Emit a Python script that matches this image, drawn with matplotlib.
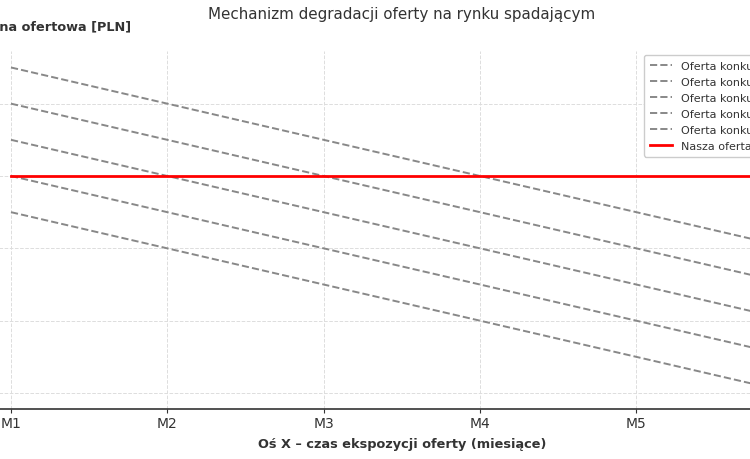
import numpy as np
import matplotlib
matplotlib.use('Agg')
import matplotlib.pyplot as plt

# months on the x axis
months = ['M1', 'M2', 'M3', 'M4', 'M5', 'M6']
# competitor offers - each one drops 5 PLN per month
comp_labels = ['Oferta konkurencji 1', 'Oferta konkurencji 2', 'Oferta konkurencji 3',
               'Oferta konkurencji 4', 'Oferta konkurencji 5']
comp_prices = [
    [115, 110, 105, 100, 95, 90],
    [110, 105, 100, 95, 90, 85],
    [105, 100, 95, 90, 85, 80],
    [100, 95, 90, 85, 80, 75],
    [95, 90, 85, 80, 75, 70],
]
our_price = [100, 100, 100, 100, 100, 100]

x = np.arange(1, len(months) + 1)

fig = plt.figure(figsize=(7.5, 4.6), dpi=100)
# the axes run past the figure edges on both sides (cropped look)
ax = fig.add_axes([-28.1 / 750, 49.7 / 460, 859.8 / 750, 358.1 / 460])

for lab, yy in zip(comp_labels, comp_prices):
    ax.plot(x, yy, '--', color='#888888', linewidth=1.4, label=lab)
ax.plot(x, our_price, '-', color='red', linewidth=2, label='Nasza oferta')

ax.set_xticks(x)
ax.set_xticklabels(months)
ax.tick_params(axis='x', labelsize=10, colors='#333333', length=3, pad=1.5)
ax.tick_params(axis='y', left=False, labelleft=False)
ax.grid(True, linestyle='--', color='#dddddd', linewidth=0.7)

for s in ['top', 'right', 'left']:
    ax.spines[s].set_visible(False)
ax.spines['bottom'].set_color('#333333')
ax.spines['bottom'].set_linewidth(1.2)

leg = ax.legend(loc='upper left', bbox_to_anchor=(644 / 750, 1 - 56 / 460),
                bbox_transform=fig.transFigure, borderaxespad=0,
                fontsize=8, labelspacing=0.55, borderpad=0.5, handlelength=2.0,
                framealpha=1, edgecolor='#cccccc')
for t in leg.get_texts():
    t.set_color('#333333')

fig.text(402 / 750, 1 - 15 / 460, 'Mechanizm degradacji oferty na rynku spadającym',
         ha='center', va='center', fontsize=10.9, color='#333333')
fig.text(131 / 750, 1 - 27 / 460, 'Cena ofertowa [PLN]', ha='right', va='center',
         fontsize=9.3, fontweight='bold', color='#333333')
fig.text(402 / 750, 1 - 445 / 460, 'Oś X – czas ekspozycji oferty (miesiące)',
         ha='center', va='center', fontsize=9.3, fontweight='bold', color='#333333')

fig.savefig('out.png', dpi=100)
